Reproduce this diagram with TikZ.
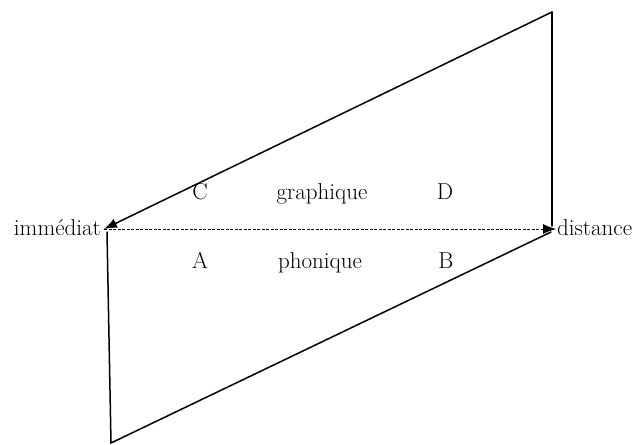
\documentclass[tikz,border=0pt]{standalone}
\usetikzlibrary{arrows.meta}
\tikzset{
  edge/.style={line width=1.5pt, line cap=round},
  dashline/.style={line width=0.8pt, dash pattern=on 3pt off 1.5pt},
  tip/.style={-{Latex[length=13pt,width=10pt]}},
  lab/.style={font=\fontsize{23}{27}\selectfont, inner sep=0pt, anchor=base},
}
\begin{document}
\begin{tikzpicture}[x=1pt,y=-1pt]
\useasboundingbox (0,0) rectangle (641,445);
\coordinate (TR) at (552,12);
\coordinate (L) at (104,229);
\coordinate (R) at (556,229);
\coordinate (LT) at (107,232);
\coordinate (BL) at (111,443);
\coordinate (RB) at (551,232);
\coordinate (RV) at (552,226);
% upper parallelogram
\draw[edge,tip] (TR) -- (L);
\draw[edge] (TR) -- (RV);
% dashed axis
\draw[dashline,tip] (L) -- (R);
% lower parallelogram
\draw[edge] (LT) -- (BL) -- (RB);
% labels
\node[lab, anchor=base east] (imm) at (101,235) {immédiat};
\node[lab, anchor=base west] (dist) at (557,235) {distance};
\node[lab] (C) at (200,199) {C};
\node[lab] (gra) at (322,199) {graphique};
\node[lab] (D) at (445,199) {D};
\node[lab] (A) at (200,268) {A};
\node[lab] (pho) at (320,268) {phonique};
\node[lab] (B) at (446,268) {B};
\end{tikzpicture}
\end{document}
